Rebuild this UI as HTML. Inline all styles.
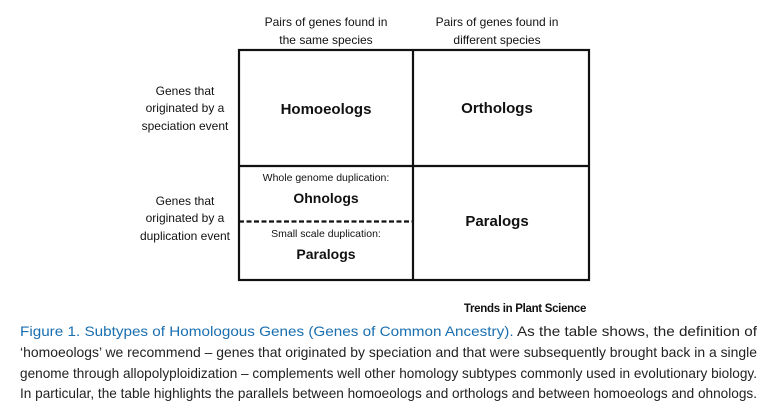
<!DOCTYPE html>
<html><head><meta charset="utf-8"><style>
body{margin:0;background:#fff;}
svg{display:block;font-family:"Liberation Sans",sans-serif;}
</style></head><body>
<svg width="765" height="405" viewBox="0 0 765 405">
<g font-size="12" fill="#111" text-anchor="middle">
<text x="326" y="26">Pairs of genes found in</text>
<text x="326" y="44">the same species</text>
<text x="497" y="26">Pairs of genes found in</text>
<text x="497" y="44">different species</text>
</g>
<g font-size="12" fill="#111" text-anchor="middle">
<text x="185" y="95">Genes that</text>
<text x="185" y="112">originated by a</text>
<text x="185" y="130">speciation event</text>
<text x="185" y="205">Genes that</text>
<text x="185" y="222">originated by a</text>
<text x="185" y="240">duplication event</text>
</g>
<g stroke="#111" stroke-width="2.2" fill="none">
<rect x="239" y="50" width="350" height="230"/>
<line x1="413" y1="50" x2="413" y2="280"/>
<line x1="239" y1="166" x2="589" y2="166"/>
<line x1="239" y1="221.5" x2="413" y2="221.5" stroke-dasharray="5,2.5" stroke-width="2.2"/>
</g>
<g font-weight="bold" font-size="15" fill="#111" text-anchor="middle">
<text x="326" y="114">Homoeologs</text>
<text x="497" y="113">Orthologs</text>
<text x="497" y="226">Paralogs</text>
<text x="326" y="203" font-size="14">Ohnologs</text>
<text x="326" y="259" font-size="14">Paralogs</text>
</g>
<g font-size="10.5" fill="#111" text-anchor="middle">
<text x="326" y="181">Whole genome duplication:</text>
<text x="326" y="237">Small scale duplication:</text>
</g>
<text x="525" y="312" font-size="11.5" font-weight="bold" text-anchor="middle" fill="#111" letter-spacing="-0.3">Trends in Plant Science</text>
<g font-size="14" fill="#222">
<text x="20" y="336" textLength="737" lengthAdjust="spacingAndGlyphs"><tspan fill="#1a6fb0">Figure 1. Subtypes of Homologous Genes (Genes of Common Ancestry).</tspan> As the table shows, the definition of</text>
<text x="20" y="357" textLength="737" lengthAdjust="spacingAndGlyphs">‘homoeologs’ we recommend – genes that originated by speciation and that were subsequently brought back in a single</text>
<text x="20" y="378" textLength="737" lengthAdjust="spacingAndGlyphs">genome through allopolyploidization – complements well other homology subtypes commonly used in evolutionary biology.</text>
<text x="20" y="398" textLength="737" lengthAdjust="spacingAndGlyphs">In particular, the table highlights the parallels between homoeologs and orthologs and between homoeologs and ohnologs.</text>
</g>
</svg>
</body></html>
